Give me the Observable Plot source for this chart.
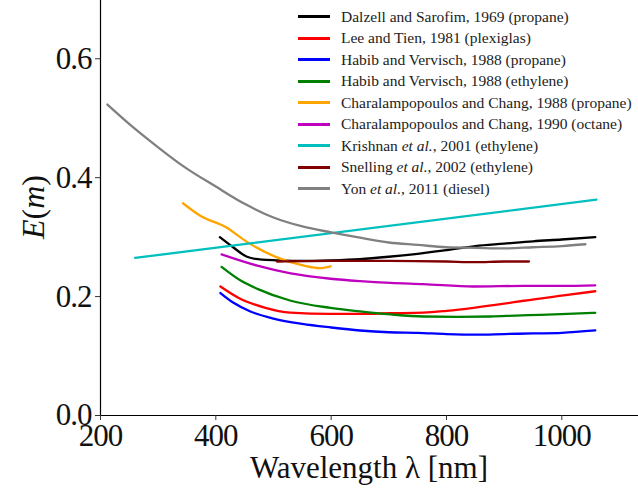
<!DOCTYPE html>
<html>
<head>
<meta charset="utf-8">
<script src="https://cdn.jsdelivr.net/npm/d3@7"></script>
<script src="https://cdn.jsdelivr.net/npm/@observablehq/plot@0.6"></script>
<style>
  html, body { margin: 0; padding: 0; background: #fff; }
  #wrap { position: relative; width: 638px; height: 498px; overflow: hidden; }
  #legend { position: absolute; left: 298px; top: 6px; font-size: 15.5px; color: #222; }
  .row { display: flex; align-items: center; height: 21.5px; white-space: nowrap; }
  .sw { width: 32px; height: 3px; margin-right: 11px; }
  #xlabel { position: absolute; left: 0; width: 638px; padding-left: 100px; box-sizing: border-box; text-align: center; top: 450px; font-size: 31px; color: #111; white-space: nowrap; }
  #ylabel { position: absolute; left: 33px; top: 207px; transform: translate(-50%, -50%) rotate(-90deg); font-size: 32px; font-style: italic; color: #111; white-space: nowrap; }
  #ylabel span { font-style: normal; }
</style>
</head>
<body>
<div id="wrap"></div>
<script>
// ---- data ----
const seriesNames = [
  "Dalzell and Sarofim, 1969 (propane)",
  "Lee and Tien, 1981 (plexiglas)",
  "Habib and Vervisch, 1988 (propane)",
  "Habib and Vervisch, 1988 (ethylene)",
  "Charalampopoulos and Chang, 1988 (propane)",
  "Charalampopoulos and Chang, 1990 (octane)",
  "Krishnan et al., 2001 (ethylene)",
  "Snelling et al., 2002 (ethylene)",
  "Yon et al., 2011 (diesel)"
];
const legendHtml = [
  "Dalzell and Sarofim, 1969 (propane)",
  "Lee and Tien, 1981 (plexiglas)",
  "Habib and Vervisch, 1988 (propane)",
  "Habib and Vervisch, 1988 (ethylene)",
  "Charalampopoulos and Chang, 1988 (propane)",
  "Charalampopoulos and Chang, 1990 (octane)",
  "Krishnan <i>et al.</i>, 2001 (ethylene)",
  "Snelling <i>et al.</i>, 2002 (ethylene)",
  "Yon <i>et al.</i>, 2011 (diesel)"
];
const seriesColors = ["#000000", "#ff0000", "#0000ff", "#008000", "#ffa500", "#bf00bf", "#00bfbf", "#800000", "#808080"];

const dalzellX = [407, 430, 454, 480, 506, 550, 600, 650, 700, 750, 800, 850, 900, 950, 1000, 1058];
const dalzellY = [0.300, 0.283, 0.267, 0.262, 0.261, 0.260, 0.261, 0.263, 0.267, 0.272, 0.278, 0.285, 0.289, 0.293, 0.296, 0.300];

const leeX = [408, 443, 483, 529, 599, 650, 703, 760, 800, 847, 900, 934, 1003, 1058];
const leeY = [0.217, 0.196, 0.182, 0.173, 0.171, 0.171, 0.172, 0.173, 0.176, 0.181, 0.188, 0.193, 0.202, 0.209];

const habibPropX = [408, 430, 460, 500, 550, 600, 650, 700, 750, 800, 850, 900, 950, 1000, 1058];
const habibPropY = [0.206, 0.190, 0.175, 0.163, 0.154, 0.148, 0.143, 0.140, 0.139, 0.137, 0.136, 0.137, 0.138, 0.139, 0.143];

const habibEthX = [410, 443, 472, 530, 599, 650, 703, 760, 820, 876, 920, 963, 1010, 1058];
const habibEthY = [0.250, 0.227, 0.213, 0.193, 0.181, 0.175, 0.170, 0.1665, 0.166, 0.1665, 0.168, 0.1694, 0.171, 0.1727];

const chara88X = [343, 373, 417, 454, 506, 553, 581, 599];
const chara88Y = [0.357, 0.336, 0.317, 0.292, 0.266, 0.252, 0.248, 0.251];

const chara90X = [410, 472, 530, 599, 650, 703, 760, 847, 934, 1000, 1058];
const chara90Y = [0.271, 0.252, 0.239, 0.230, 0.226, 0.223, 0.221, 0.217, 0.218, 0.218, 0.219];

const krishnanX = [260, 1060];
const krishnanY = [0.265, 0.363];

const snellingX = [506, 600, 700, 800, 850, 900, 943];
const snellingY = [0.259, 0.260, 0.260, 0.259, 0.258, 0.259, 0.259];

const yonX = [212, 260, 300, 344, 400, 450, 500, 550, 600, 650, 700, 750, 800, 850, 900, 950, 1000, 1041];
const yonY = [0.523, 0.482, 0.451, 0.419, 0.385, 0.356, 0.333, 0.318, 0.308, 0.299, 0.291, 0.287, 0.283, 0.282, 0.281, 0.283, 0.285, 0.288];

const xTicks = [200, 400, 600, 800, 1000];
const yTicks = [0.0, 0.2, 0.4, 0.6];

const SERIF = "'Liberation Serif', 'DejaVu Serif', serif";

// ---- build table ----
const allX = [dalzellX, leeX, habibPropX, habibEthX, chara88X, chara90X, krishnanX, snellingX, yonX];
const allY = [dalzellY, leeY, habibPropY, habibEthY, chara88Y, chara90Y, krishnanY, snellingY, yonY];
const rows = [];
allX.forEach((xs, i) => xs.forEach((x, j) => rows.push({series: seriesNames[i], x, y: allY[i][j]})));

const lineMarks = seriesNames.map((name, i) =>
  Plot.line(rows.filter(d => d.series === name), {x: "x", y: "y", stroke: seriesColors[i], strokeWidth: 2.3, curve: "monotone-x"})
);

const chart = Plot.plot({
  width: 638,
  height: 498,
  marginLeft: 100,
  marginRight: 0,
  marginTop: 0,
  marginBottom: 83,
  style: {fontFamily: SERIF, background: "#fff", color: "#111"},
  x: {domain: [200, 1133]},
  y: {domain: [0, 0.698]},
  marks: [
    ...lineMarks,
    Plot.ruleX([200], {stroke: "#000", strokeWidth: 1.2}),
    Plot.ruleY([0], {stroke: "#000", strokeWidth: 1.2}),
    Plot.axisX({ticks: xTicks, tickFormat: d => String(d), tickSize: 5, tickPadding: 3, fontSize: 31, label: null, stroke: "#333"}),
    Plot.axisY({ticks: yTicks, tickFormat: d => d.toFixed(1), tickSize: 5, tickPadding: 4, fontSize: 31, label: null, stroke: "#333"})
  ]
});
chart.querySelectorAll("text").forEach(t => { t.style.letterSpacing = "-1px"; t.style.fontFamily = SERIF; });

const wrap = document.getElementById("wrap");
wrap.style.fontFamily = SERIF;
wrap.appendChild(chart);

const legend = document.createElement("div");
legend.id = "legend";
legend.style.fontFamily = SERIF;
seriesNames.forEach((name, i) => {
  const r = document.createElement("div");
  r.className = "row";
  const sw = document.createElement("div");
  sw.className = "sw";
  sw.style.background = seriesColors[i];
  const lab = document.createElement("span");
  lab.style.fontFamily = SERIF;
  lab.innerHTML = legendHtml[i];
  r.appendChild(sw); r.appendChild(lab);
  legend.appendChild(r);
});
wrap.appendChild(legend);

const xl = document.createElement("div");
xl.id = "xlabel";
xl.style.fontFamily = SERIF;
xl.textContent = "Wavelength λ [nm]";
wrap.appendChild(xl);

const yl = document.createElement("div");
yl.id = "ylabel";
yl.style.fontFamily = SERIF;
yl.innerHTML = "E<span>(</span>m<span>)</span>";
wrap.appendChild(yl);
</script>
</body>
</html>
